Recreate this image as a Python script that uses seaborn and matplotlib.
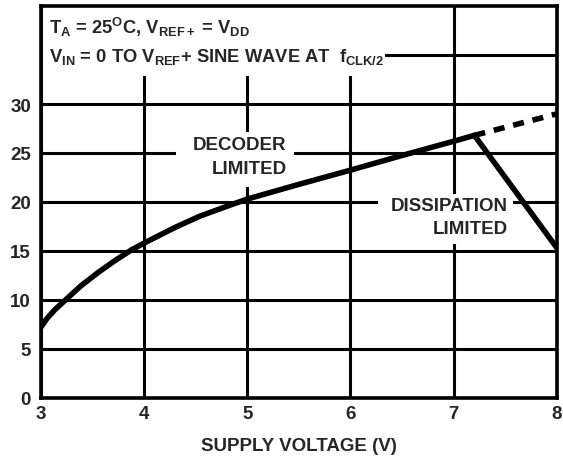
import matplotlib
matplotlib.use("Agg")
import matplotlib.pyplot as plt
from matplotlib.patches import Rectangle
import seaborn as sns
import pandas as pd

# Data
decoder_v = [3.0, 3.06, 3.136, 3.25, 3.39, 3.555, 3.716, 3.877, 4.0, 4.15, 4.3, 4.54, 4.8, 5.0,
             5.5, 6.0, 6.5, 7.0, 7.2]
decoder_f = [7.2, 8.1, 9.0, 10.1, 11.45, 12.8, 14.0, 15.1, 15.8, 16.6, 17.4, 18.55, 19.55, 20.3,
             21.8, 23.25, 24.75, 26.2, 26.8]
extrap_v = [7.2, 8.0]
extrap_f = [26.8, 29.0]
dissip_v = [7.2, 8.0]
dissip_f = [26.8, 15.3]
x_ticks = [3, 4, 5, 6, 7, 8]
y_ticks = [0, 5, 10, 15, 20, 25, 30, 35]
y_labels = ["0", "5", "10", "15", "20", "25", "30", ""]

sns.set_theme(style="white")
plt.rcParams['font.family'] = ['Liberation Sans', 'DejaVu Sans']
plt.rcParams['mathtext.fontset'] = 'custom'
plt.rcParams['mathtext.rm'] = 'Liberation Sans:bold'
plt.rcParams['mathtext.bf'] = 'Liberation Sans:bold'
plt.rcParams['mathtext.it'] = 'Liberation Sans:bold'
plt.rcParams['mathtext.default'] = 'rm'

fig = plt.figure(figsize=(5.63, 4.6), dpi=100)
ax = fig.add_axes([40.7/563, 1-399/460, 516.3/563, 392/460])

ax.set_xlim(3, 8)
ax.set_ylim(0, 40)
ax.set_xticks(x_ticks)
ax.set_yticks(y_ticks)
ax.set_xticklabels([str(t) for t in x_ticks], fontweight='bold', fontsize=13.5)
ax.set_yticklabels(y_labels, fontweight='bold', fontsize=13.5)
ax.tick_params(axis='x', length=0, pad=5)
ax.tick_params(axis='y', length=0, pad=7)
ax.grid(True, color='black', linewidth=2.2, zorder=1)
ax.set_axisbelow(True)
for s in ax.spines.values():
    s.set_color('black')
    s.set_linewidth(2.6)
    s.set_zorder(6)

# white label backgrounds that interrupt the grid
for (x0, y0, w, h) in [(3.02, 32.9, 3.31, 7.1), (4.31, 21.5, 1.14, 5.6), (6.27, 15.7, 1.30, 5.1)]:
    ax.add_patch(Rectangle((x0, y0), w, h, facecolor='white', edgecolor='none', zorder=2))

df1 = pd.DataFrame({"v": decoder_v, "f": decoder_f})
df2 = pd.DataFrame({"v": extrap_v, "f": extrap_f})
df3 = pd.DataFrame({"v": dissip_v, "f": dissip_f})
sns.lineplot(data=df1, x="v", y="f", ax=ax, color='black', linewidth=4, sort=False, zorder=5)
sns.lineplot(data=df2, x="v", y="f", ax=ax, color='black', linewidth=4, sort=False, zorder=5,
             linestyle=(0, (2.0, 1.6)))
sns.lineplot(data=df3, x="v", y="f", ax=ax, color='black', linewidth=4, sort=False, zorder=5)

ax.set_xlabel("SUPPLY VOLTAGE (V)", fontweight='bold', fontsize=13.5, labelpad=11)
ax.set_ylabel("")

tk = dict(fontsize=13.5, fontweight='bold', zorder=4)
tt = dict(fontsize=13.2, fontweight='bold', zorder=4)
ax.text(3.08, 37.9, "T$_{A}$ = 25$^{O}$C, V$_{REF+}$ = V$_{DD}$", ha='left', va='center', **tt)
ax.text(3.08, 34.9, "V$_{IN}$ = 0 TO V$_{REF}$+ SINE WAVE AT  f$_{CLK/2}$", ha='left', va='center', **tt)
ax.text(5.38, 25.9, "DECODER", ha='right', va='center', **tk)
ax.text(5.38, 23.4, "LIMITED", ha='right', va='center', **tk)
ax.text(7.52, 19.6, "DISSIPATION", ha='right', va='center', **tk)
ax.text(7.52, 17.25, "LIMITED", ha='right', va='center', **tk)

fig.savefig("out.png", dpi=100)
